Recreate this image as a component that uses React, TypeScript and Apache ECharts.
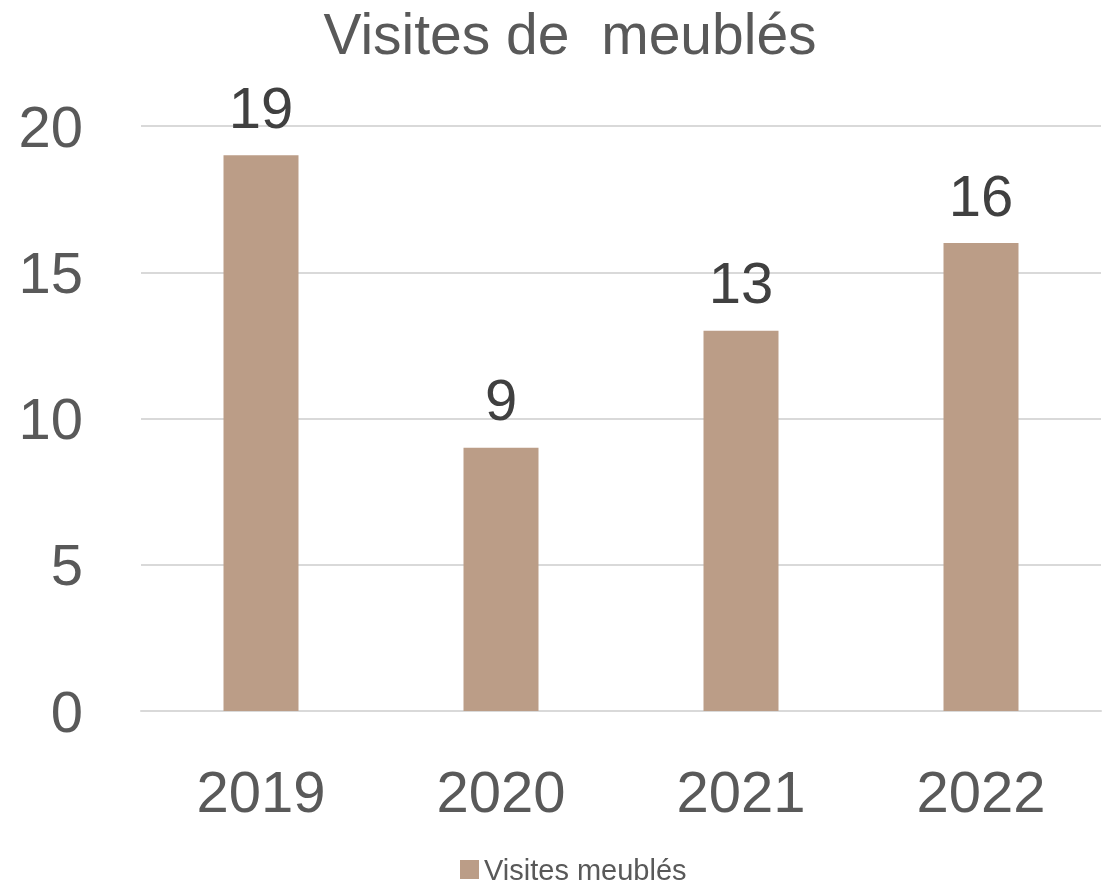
import React, { useEffect, useRef } from "react";
import * as echarts from "echarts";

const categories = ["2019", "2020", "2021", "2022"];
const values = [19, 9, 13, 16];
const seriesName = "Visites meublés";
const titleText = "Visites de  meublés";

const FONT = "'Liberation Sans', Arial, sans-serif";

export default function App() {
  const ref = useRef<HTMLDivElement>(null);
  useEffect(() => {
    if (!ref.current) return;
    const chart = echarts.init(ref.current, null, { renderer: "svg" });
    chart.setOption({
      animation: false,
      title: {
        text: titleText,
        left: 565,
        textAlign: "center",
        top: 0,
        textStyle: { fontFamily: FONT, fontSize: 57, fontWeight: "normal", color: "#595959" },
      },
      legend: {
        data: [seriesName],
        bottom: 2,
        left: 455,
        itemWidth: 19,
        itemHeight: 19,
        icon: "rect",
        itemGap: 6,
        textStyle: { fontFamily: FONT, fontSize: 29, color: "#595959" },
      },
      grid: { left: 141, right: 5, top: 126, bottom: 180, containLabel: false },
      xAxis: {
        type: "category",
        data: categories,
        axisLine: { lineStyle: { color: "#D9D9D9", width: 2 } },
        axisTick: { show: false },
        axisLabel: { fontFamily: FONT, fontSize: 58, color: "#595959", margin: 51 },
      },
      yAxis: {
        type: "value",
        min: 0,
        max: 20,
        interval: 5,
        splitLine: { lineStyle: { color: "#D9D9D9", width: 2 } },
        axisLine: { show: false },
        axisTick: { show: false },
        axisLabel: { fontFamily: FONT, fontSize: 58, color: "#595959", margin: 58 },
      },
      series: [
        {
          name: seriesName,
          type: "bar",
          data: values,
          barWidth: 75,
          itemStyle: { color: "#BB9D87" },
          label: {
            show: true,
            position: "top",
            distance: 19,
            fontFamily: FONT,
            fontSize: 58,
            color: "#404040",
          },
        },
      ],
    });
    return () => chart.dispose();
  }, []);
  return (
    <div
      ref={ref}
      style={{ position: "fixed", left: 0, top: 0, width: 1106, height: 891 }}
    />
  );
}
